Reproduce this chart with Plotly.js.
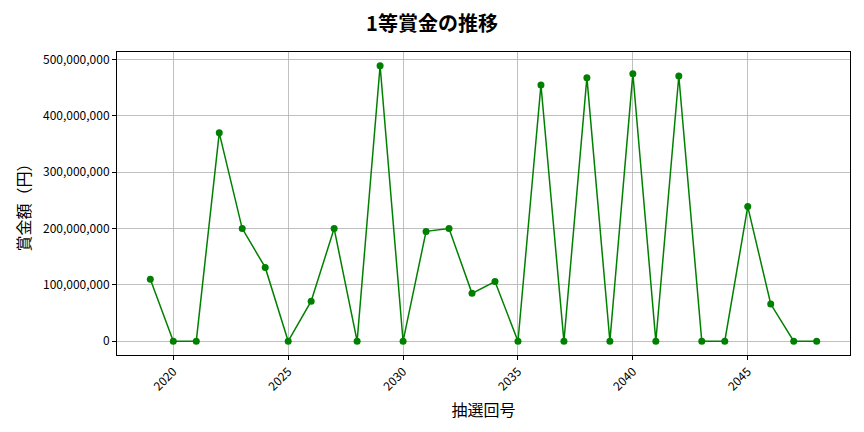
<!DOCTYPE html>
<html>
<head>
<meta charset="utf-8">
<script src="https://cdn.plot.ly/plotly-3.0.1.min.js"></script>
<style>
  html, body { margin: 0; padding: 0; background: #fff; }
  #chart { width: 864px; height: 432px; }
</style>
</head>
<body>
<div id="chart"></div>
<script>
// 抽選回号 and 1等賞金 (yen)
let draws = [2019, 2020, 2021, 2022, 2023, 2024, 2025, 2026, 2027, 2028,
             2029, 2030, 2031, 2032, 2033, 2034, 2035, 2036, 2037, 2038,
             2039, 2040, 2041, 2042, 2043, 2044, 2045, 2046, 2047, 2048];
let prizes = [110000000, 0, 0, 370000000, 200000000, 131000000, 0, 71000000, 200000000, 0,
              489000000, 0, 195000000, 200000000, 85000000, 106000000, 0, 455000000, 0, 468000000,
              0, 475000000, 0, 471000000, 0, 0, 239000000, 66000000, 0, 0];
let yTicks = [0, 100000000, 200000000, 300000000, 400000000, 500000000];
let yTickText = ["0", "100,000,000", "200,000,000", "300,000,000", "400,000,000", "500,000,000"];

let font = "Noto Sans CJK JP, Noto Sans, sans-serif";

let trace = {
    x: draws,
    y: prizes,
    mode: 'lines+markers',
    line: { color: 'green', width: 1.5 },
    marker: { color: 'green', size: 7 },
    hoverinfo: 'x+y'
};

let layout = {
    width: 864,
    height: 432,
    paper_bgcolor: '#fff',
    plot_bgcolor: '#fff',
    font: { family: font, color: '#000', size: 12 },
    margin: { l: 117, r: 14, t: 52, b: 77 },
    title: {
        text: '<b>1等賞金の推移</b>',
        font: { family: font, size: 20, color: '#000' },
        x: 0.5, xanchor: 'center',
        y: 0.945, yanchor: 'middle'
    },
    xaxis: {
        range: [2017.55, 2049.45],
        tickvals: [2020, 2025, 2030, 2035, 2040, 2045],
        ticktext: ['2020', '2025', '2030', '2035', '2040', '2045'],
        tickangle: -45,
        ticks: 'outside', ticklen: 4, tickcolor: '#000',
        showgrid: true, gridcolor: '#b0b0b0', gridwidth: 0.8,
        zeroline: false,
        showline: true, linecolor: '#000', linewidth: 1, mirror: true,
        title: { text: '抽選回号', font: { family: font, size: 16 }, standoff: 12 }
    },
    yaxis: {
        range: [-24500000, 513500000],
        tickvals: yTicks,
        ticktext: yTickText,
        ticks: 'outside', ticklen: 4, tickcolor: '#000',
        showgrid: true, gridcolor: '#b0b0b0', gridwidth: 0.8,
        zeroline: false,
        showline: true, linecolor: '#000', linewidth: 1, mirror: true,
        title: { text: '賞金額（円）', font: { family: font, size: 16 }, standoff: 8 }
    },
    showlegend: false
};

Plotly.newPlot('chart', [trace], layout, { displayModeBar: false, staticPlot: true });
</script>
</body>
</html>
